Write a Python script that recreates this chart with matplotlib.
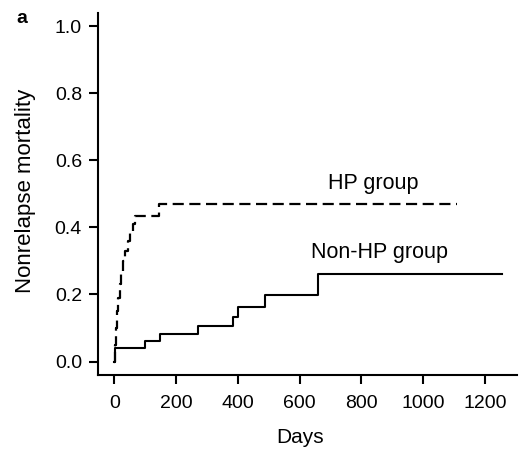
import matplotlib
matplotlib.use('Agg')
import matplotlib.pyplot as plt

plt.rcParams['font.family'] = ['Liberation Sans', 'DejaVu Sans']

# Non-HP group (solid step curve)
nonhp_days = [0, 2, 99, 148, 272, 385, 399, 488, 658, 1255]
nonhp_nrm = [0.0, 0.04, 0.06, 0.082, 0.107, 0.134, 0.164, 0.197, 0.261, 0.261]

# HP group (dashed step curve)
hp_days = [0, 2, 5, 8, 12, 17, 22, 28, 35, 43, 51, 59, 67, 145, 1108]
hp_nrm = [0.0, 0.05, 0.10, 0.15, 0.19, 0.23, 0.27, 0.30, 0.33, 0.36, 0.385, 0.41, 0.433, 0.47, 0.47]

x_ticks = [0, 200, 400, 600, 800, 1000, 1200]
y_ticks = [0.0, 0.2, 0.4, 0.6, 0.8, 1.0]

fig = plt.figure(figsize=(5.21, 4.49), dpi=100)
ax = fig.add_axes([0.188, 0.165, 0.804, 0.806])

ax.step(nonhp_days, nonhp_nrm, where='post', color='black', lw=1.5)
ax.step(hp_days, hp_nrm, where='post', color='black', lw=1.6, dashes=(5, 2.5))

ax.set_xlim(-53, 1303)
ax.set_ylim(-0.04, 1.04)
ax.set_xticks(x_ticks)
ax.set_yticks(y_ticks)
ax.set_yticklabels([f'{v:.1f}' for v in y_ticks])

for s in ['top', 'right']:
    ax.spines[s].set_visible(False)
for s in ['left', 'bottom']:
    ax.spines[s].set_linewidth(1.5)
ax.tick_params(direction='out', length=6.5, width=1.5, labelsize=14)
ax.tick_params(axis='x', pad=8)
ax.tick_params(axis='y', pad=5)

ax.set_xlabel('Days', fontsize=15)
ax.xaxis.set_label_coords(0.482, -0.174)
ax.xaxis.label.set_va('center')
ax.set_ylabel('Nonrelapse mortality', fontsize=16)
ax.yaxis.set_label_coords(-0.174, 0.508)
ax.yaxis.label.set_va('center')

ax.text(837, 0.53, 'HP group', fontsize=15.5, ha='center', va='center')
ax.text(860, 0.325, 'Non-HP group', fontsize=15.5, ha='center', va='center')
fig.text(0.042, 0.958, 'a', fontsize=14, fontweight='bold', ha='center', va='center')

fig.savefig('out.png', dpi=100)
